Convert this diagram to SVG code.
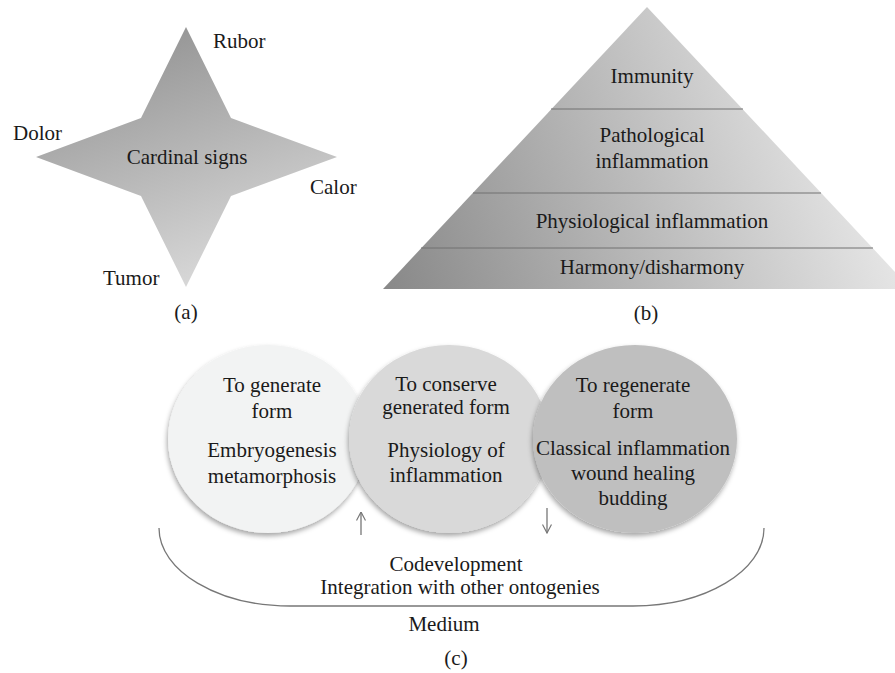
<svg xmlns="http://www.w3.org/2000/svg" width="895" height="673" viewBox="0 0 895 673" font-family="'Liberation Serif', 'DejaVu Serif', serif">
<defs>
<linearGradient id="starG" gradientUnits="userSpaceOnUse" x1="150" y1="27" x2="240" y2="287">
<stop offset="0" stop-color="#949494"/><stop offset="1" stop-color="#dcdcdc"/>
</linearGradient>
<linearGradient id="pyrG" gradientUnits="userSpaceOnUse" x1="383" y1="289" x2="860" y2="120">
<stop offset="0" stop-color="#888888"/><stop offset="1" stop-color="#e8e8e8"/>
</linearGradient>
<filter id="sh" x="-20%" y="-20%" width="140%" height="150%">
<feDropShadow dx="-1" dy="3" stdDeviation="2.5" flood-color="#000" flood-opacity="0.35"/>
</filter>
<marker id="ah" viewBox="0 0 10 10" refX="9.5" refY="5" markerWidth="10" markerHeight="10" orient="auto" markerUnits="userSpaceOnUse">
<path d="M1,0.5 L9.5,5 L1,9.5" fill="none" stroke="#777" stroke-width="1.2"/>
</marker>
</defs>
<style>
text{font-family:'Liberation Serif','DejaVu Serif',serif;font-size:21px;fill:#1a1a1a}
.c{text-anchor:middle}
.sep{stroke:#707070;stroke-width:1}
.conn{fill:none;stroke:#777;stroke-width:1.3}
</style>
<rect width="895" height="673" fill="#fff"/>

<g id="star">
<polygon points="186,27 231,118 337,157 231,196 186,287 141,196 36,157 141,118" fill="url(#starG)"/>
<text class="c" x="187" y="164">Cardinal signs</text>
</g>
<g id="rubor"><text x="213" y="48">Rubor</text></g>
<g id="dolor"><text x="13" y="140">Dolor</text></g>
<g id="calor"><text x="310" y="194">Calor</text></g>
<g id="tumor"><text x="103" y="285">Tumor</text></g>
<g id="label-a"><text class="c" x="186" y="319">(a)</text></g>

<g id="pyramid">
<polygon points="647,7 911,289 383,289" fill="url(#pyrG)"/>
<line class="sep" x1="551" y1="109" x2="743" y2="109"/>
<line class="sep" x1="473" y1="193" x2="821" y2="193"/>
<line class="sep" x1="421" y1="248" x2="873" y2="248"/>
<text class="c" x="652" y="83">Immunity</text>
<text class="c" x="652" y="142">Pathological</text>
<text class="c" x="652" y="168">inflammation</text>
<text class="c" x="652" y="228">Physiological inflammation</text>
<text class="c" x="652" y="274">Harmony/disharmony</text>
</g>
<g id="label-b"><text class="c" x="646" y="320">(b)</text></g>

<g id="circle1">
<ellipse cx="268" cy="439" rx="100" ry="94" fill="#f2f3f3" filter="url(#sh)"/>
<text class="c" x="272" y="392">To generate</text>
<text class="c" x="272" y="418">form</text>
<text class="c" x="272" y="457">Embryogenesis</text>
<text class="c" x="272" y="483">metamorphosis</text>
</g>
<g id="circle2">
<ellipse cx="449" cy="439" rx="100" ry="94" fill="#d9d9d9" filter="url(#sh)"/>
<text class="c" x="446" y="391">To conserve</text>
<text class="c" x="446" y="414">generated form</text>
<text class="c" x="446" y="457">Physiology of</text>
<text class="c" x="446" y="482">inflammation</text>
</g>
<g id="circle3">
<ellipse cx="635" cy="439" rx="102" ry="94" fill="#bfbfbf" filter="url(#sh)"/>
<text class="c" x="633" y="392">To regenerate</text>
<text class="c" x="633" y="418">form</text>
<text class="c" x="633" y="455">Classical inflammation</text>
<text class="c" x="633" y="480">wound healing</text>
<text class="c" x="633" y="505">budding</text>
</g>

<g id="connectors">
<line class="conn" x1="361" y1="535" x2="361" y2="512" marker-end="url(#ah)"/>
<line class="conn" x1="547" y1="508" x2="547" y2="533" marker-end="url(#ah)"/>
<path class="conn" d="M159,528 C159,571 218,606 290,606 L633,606 C705,606 764,571 764,528"/>
</g>

<g id="medium">
<text class="c" x="456" y="571">Codevelopment</text>
<text class="c" x="460" y="594">Integration with other ontogenies</text>
<text class="c" x="444" y="631">Medium</text>
</g>
<g id="label-c"><text class="c" x="456" y="665">(c)</text></g>
</svg>
